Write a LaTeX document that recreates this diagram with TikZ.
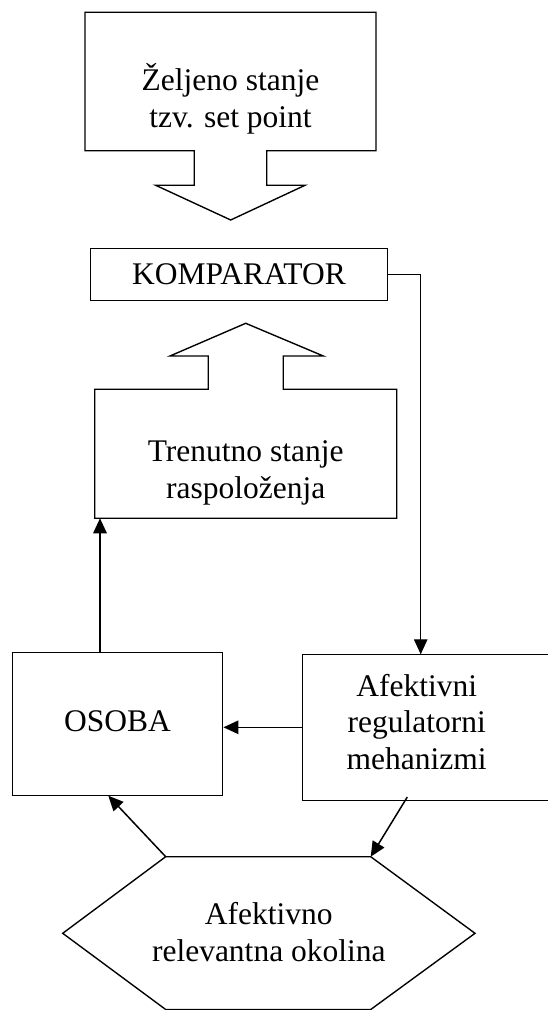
\documentclass[tikz,border=0pt]{standalone}
\usepackage{fontspec}
\setmainfont{Liberation Serif}
\usetikzlibrary{arrows.meta}
\tikzset{
  box/.style={draw,line width=0.55pt,rectangle,inner sep=0pt},
  txt/.style={align=center,inner sep=0pt},
  outline/.style={draw,line width=0.55pt,line join=miter},
  arr/.style={line width=0.6pt,-{Triangle[length=6pt,width=5.4pt]}}
}
\begin{document}
\begin{tikzpicture}[x=0.4pt,y=-0.4pt,font=\fontsize{12.6}{14.7}\selectfont]
    \useasboundingbox (0,0) rectangle (547,1010);
    %% Desired state (block arrow pointing down)
    \draw[outline] (85,12.3) -- (376,12.3) -- (376,150.7) -- (266.7,150.7) -- (266.7,185.3)
        -- (305,185.3) -- (230.7,220) -- (155.7,185.3) -- (194.3,185.3) -- (194.3,150.7)
        -- (85,150.7) -- cycle;
    \node[txt] (zelj) at (230.5,99) {Željeno stanje\\tzv. set point};
    %% Comparator
    \node[box,minimum width=119pt,minimum height=21pt] (komp) at (239,274.5) {KOMPARATOR};
    %% Current state (block arrow pointing up)
    \draw[outline] (94.7,518.3) -- (94.7,389.3) -- (208.3,389.3) -- (208.3,356) -- (170,356)
        -- (245.7,323.3) -- (323.3,356) -- (283.3,356) -- (283.3,389.3) -- (396.7,389.3)
        -- (396.7,518.3) -- cycle;
    \node[txt] (tren) at (245.7,473) {Trenutno stanje\\raspoloženja};
    \coordinate (trenin) at (100,518.3);
    %% Person and regulators
    \node[box,minimum width=84.2pt,minimum height=57.2pt] (osoba) at (117.5,724.2) {};
    \node[txt] (osobatxt) at (117.5,721.7) {OSOBA};
    \node[box,minimum width=102.9pt,minimum height=58.4pt] (afekt) at (431.4,727.3) {};
    \node[txt] (afekttxt) at (416.7,722) {Afektivni\\regulatorni\\mehanizmi};
    \coordinate (afin) at (420.7,654.3);
    \coordinate (afout) at (407.3,797);
    \coordinate (osin) at (108.3,795.7);
    %% Environment (hexagon)
    \draw[outline] (165.7,856.7) coordinate (hexnw) -- (370.7,856.7) coordinate (hexne)
        -- (475,933.3) -- (370.7,1009.5) -- (165.7,1009.5) -- (62.7,933.3) -- cycle;
    \node[txt] (okol) at (268.8,932) {Afektivno\\relevantna okolina};
    %% Connectors
    \draw[arr,line width=0.45pt] (komp.east) -| (afin);
    \draw[arr,line width=0.7pt] (osoba.north -| trenin) -- (trenin);
    \draw[arr] (afekt.west) -- (afekt.west -| osoba.east);
    \draw[arr] (afout) -- (hexne);
    \draw[arr] (hexnw) -- (osin);
\end{tikzpicture}
\end{document}
